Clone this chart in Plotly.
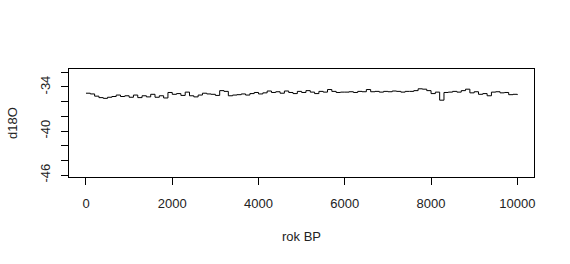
import plotly.graph_objects as go

years = list(range(0, 10001, 100))
d18o = [
    -34.85, -34.95, -35.25, -35.45, -35.55, -35.40, -35.30, -35.10, -35.30, -35.20,
    -35.40, -35.10, -35.45, -35.20, -35.35, -35.00, -35.40, -35.20, -35.50, -34.75,
    -35.00, -34.90, -35.15, -34.70, -35.20, -35.35, -35.10, -34.85, -34.95, -35.00,
    -35.15, -34.50, -34.60, -35.20, -35.10, -35.05, -34.95, -35.10, -34.90, -34.75,
    -34.95, -34.80, -34.55, -34.75, -34.65, -34.85, -34.55, -34.75, -34.90, -34.60,
    -34.75, -34.50, -34.70, -34.90, -34.60, -34.70, -34.35, -34.60, -34.75, -34.70,
    -34.70, -34.65, -34.75, -34.60, -34.65, -34.35, -34.65, -34.60, -34.70, -34.60,
    -34.65, -34.55, -34.60, -34.70, -34.60, -34.60, -34.50, -34.25, -34.30, -34.50,
    -34.90, -34.70, -35.80, -34.75, -34.70, -34.60, -34.70, -34.50, -34.30, -34.80,
    -34.65, -35.00, -34.90, -35.20, -34.70, -34.65, -34.80, -34.75, -35.05, -35.00,
    -35.10,
]

x_ticks = [0, 2000, 4000, 6000, 8000, 10000]
y_ticks = [-46, -44, -42, -40, -38, -36, -34, -32]
y_labels = ["-46", "", "", "-40", "", "", "-34", ""]

fig = go.Figure()
fig.add_trace(go.Scatter(
    x=years, y=d18o, mode="lines",
    line=dict(color="black", width=1, shape="hv"),
    showlegend=False, hoverinfo="skip",
))

font = dict(family="Liberation Sans, Arial, sans-serif", size=13, color="#222")

fig.update_layout(
    width=570, height=264,
    margin=dict(l=69, r=36, t=69, b=87),
    paper_bgcolor="white", plot_bgcolor="white",
    font=font,
    xaxis=dict(
        range=[-394, 10387], tickvals=x_ticks, ticktext=[str(v) for v in x_ticks],
        showgrid=False, zeroline=False, showline=True, mirror=True,
        linecolor="black", linewidth=1, ticks="outside", ticklen=7,
        tickcolor="black", ticklabelstandoff=7,
        title=dict(text="rok BP", standoff=22, font=font),
    ),
    yaxis=dict(
        range=[-46.27, -31.55], tickvals=y_ticks, ticktext=y_labels,
        showgrid=False, zeroline=False, showline=True, mirror=True,
        linecolor="black", linewidth=1, ticks="outside", ticklen=7,
        tickcolor="black", tickangle=-90, ticklabelstandoff=6,
        title=dict(text="d18O", standoff=17, font=font),
    ),
)

fig.write_html("out.html")
